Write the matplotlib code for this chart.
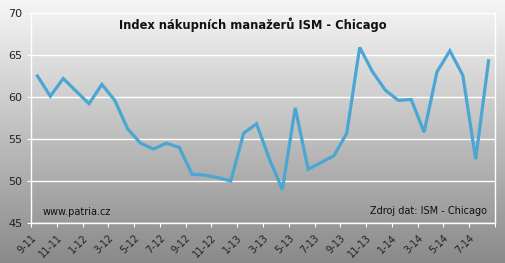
import numpy as np
import matplotlib
matplotlib.use("Agg")
import matplotlib.pyplot as plt

# monthly values, 9-11 .. 8-14
months = ["9-11", "10-11", "11-11", "12-11", "1-12", "2-12", "3-12", "4-12", "5-12", "6-12",
          "7-12", "8-12", "9-12", "10-12", "11-12", "12-12", "1-13", "2-13", "3-13", "4-13",
          "5-13", "6-13", "7-13", "8-13", "9-13", "10-13", "11-13", "12-13", "1-14", "2-14",
          "3-14", "4-14", "5-14", "6-14", "7-14", "8-14"]
values = [62.5, 60.1, 62.2, 60.7, 59.2, 61.5, 59.6, 56.2, 54.5, 53.8,
          54.5, 54.0, 50.8, 50.7, 50.4, 50.0, 55.7, 56.8, 52.6, 49.0,
          58.7, 51.4, 52.2, 53.0, 55.7, 65.9, 63.0, 60.8, 59.6, 59.7,
          55.8, 63.0, 65.5, 62.6, 52.6, 64.3]
tick_labels = months[::2]

title = "Index nákupních manažerů ISM - Chicago"
source = "Zdroj dat: ISM - Chicago"
site = "www.patria.cz"

fig = plt.figure(figsize=(5.06, 2.63), dpi=100)

# background gradient over the whole figure
bg = fig.add_axes([0, 0, 1, 1], zorder=0)
grad = np.linspace(0, 1, 256).reshape(-1, 1)
bg.imshow(grad, aspect="auto", cmap=matplotlib.colors.LinearSegmentedColormap.from_list(
    "g", ["#f6f6f6", "#8a8a8a"]), extent=[0, 1, 0, 1], origin="upper")
bg.axis("off")

ax = fig.add_axes([31 / 506, 1 - 223 / 263, 464 / 506, 210 / 263], zorder=1)
ax.patch.set_alpha(0)

x = np.arange(len(values))
ax.plot(x, values, color="#4aa6d2", lw=2.3, solid_joinstyle="miter", zorder=3)

ax.set_xlim(-0.5, len(values) - 0.5)
ax.set_ylim(45, 70)
ax.set_yticks([45, 50, 55, 60, 65, 70])
ax.grid(axis="y", color="white", lw=1.0)
ax.set_axisbelow(True)

ticks = np.arange(-0.5, len(values), 2)
ax.set_xticks(ticks)
ax.set_xticklabels(tick_labels + [""] * (len(ticks) - len(tick_labels)),
                   rotation=45, ha="right", rotation_mode="anchor", fontsize=7, color="#222222")
ax.tick_params(axis="x", length=3, color="white", pad=4)
ax.tick_params(axis="y", length=3, color="white", labelsize=8, labelcolor="#222222", pad=3)

for s in ["left", "right", "bottom", "top"]:
    ax.spines[s].set_color("white")
    ax.spines[s].set_linewidth(1.0)

fig.text(0.5, 1 - 25 / 263, title, ha="center", va="center", fontsize=8.3,
         fontweight="bold", color="#111111")
ax.text(43 / 506, 1 - 212 / 263, site, transform=fig.transFigure, ha="left", va="center",
        fontsize=7, color="#111111")
ax.text(487 / 506, 1 - 211 / 263, source, transform=fig.transFigure, ha="right", va="center",
        fontsize=7, color="#111111")

fig.savefig("out.png", dpi=100)
